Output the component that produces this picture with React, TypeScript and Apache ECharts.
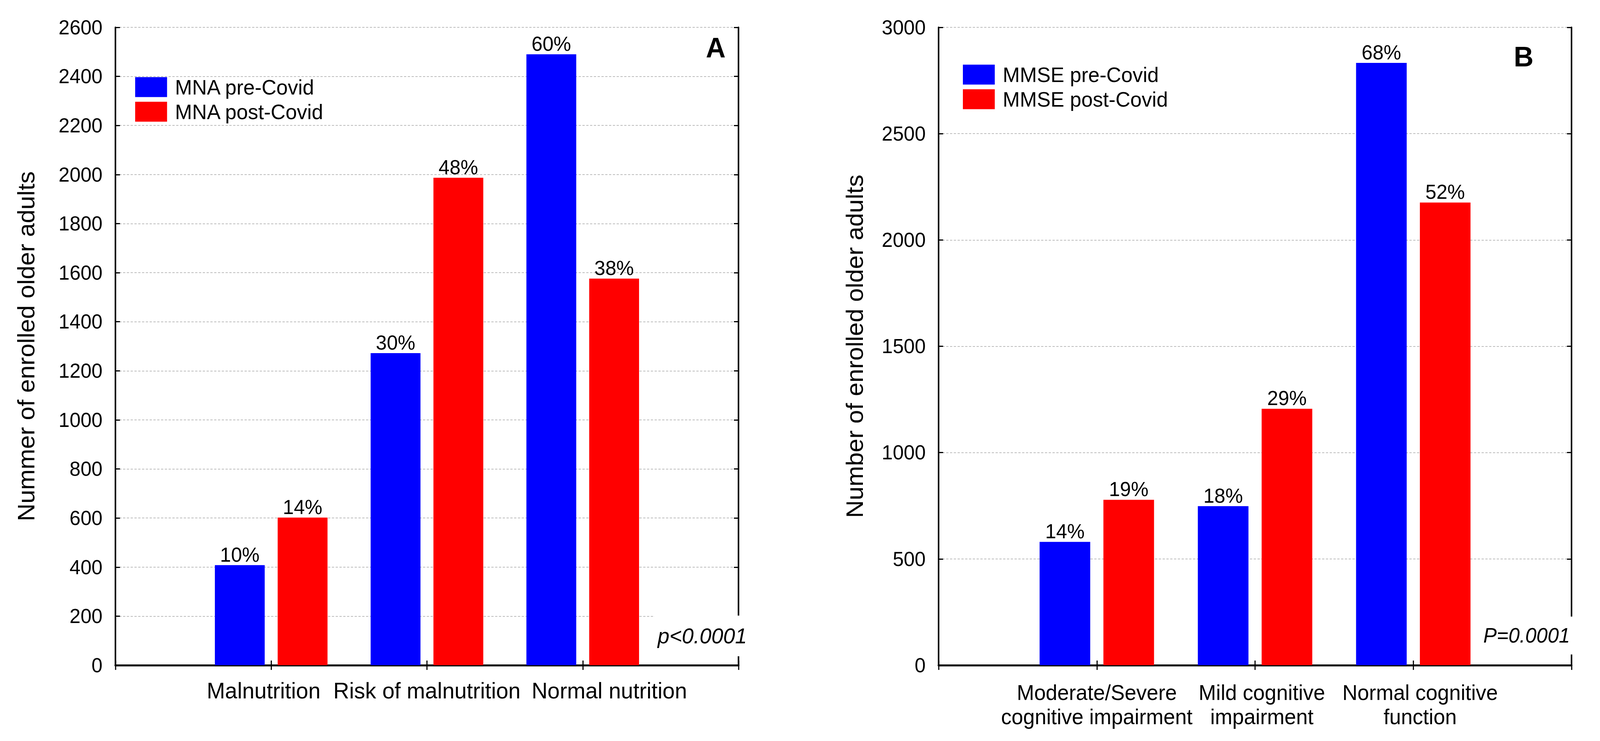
import React, { useEffect, useRef, useState } from 'react';
import * as echarts from 'echarts';

const W = 4214;
const H = 1897;
const FONT = '"Liberation Sans", Arial, sans-serif';

// Panel A (MNA)
const mnaCategories = ['', 'Malnutrition', 'Risk of malnutrition', 'Normal nutrition', ''];
const mnaPre = [408, 1272, 2490];
const mnaPost = [602, 1987, 1576];
const mnaPrePct = ['10%', '30%', '60%'];
const mnaPostPct = ['14%', '48%', '38%'];
const mnaSeriesNames = ['MNA pre-Covid', 'MNA post-Covid'];
const mnaYMax = 2600;
const mnaYStep = 200;

// Panel B (MMSE)
const mmseCategories = ['', 'Moderate/Severe\ncognitive impairment', 'Mild cognitive\nimpairment', 'Normal cognitive\nfunction', ''];
const mmsePre = [580, 748, 2833];
const mmsePost = [778, 1206, 2176];
const mmsePrePct = ['14%', '18%', '68%'];
const mmsePostPct = ['19%', '29%', '52%'];
const mmseSeriesNames = ['MMSE pre-Covid', 'MMSE post-Covid'];
const mmseYMax = 3000;
const mmseYStep = 500;

const BLUE = '#0000ff';
const RED = '#ff0000';

const pad = (arr: number[]) => ['-', ...arr, '-'];

function buildOption() {
  const grids = [
    { left: 304, top: 70, width: 1641, height: 1633 },
    { left: 2472, top: 70, width: 1667, height: 1633 },
  ];

  const labelPadA: Record<number, number[]> = { 1: [0, 40, 0, 0], 2: [0, 0, 0, 0], 3: [0, 0, 0, 140] };
  const labelPadB: Record<number, number[]> = { 1: [0, 0, 0, 0], 2: [0, 0, 0, 36], 3: [0, 0, 0, 36] };

  const mkRich = (pads: Record<number, number[]>, fs: number, lh: number) => {
    const r: any = {};
    Object.keys(pads).forEach((k) => {
      r['c' + k] = { fontSize: fs, lineHeight: lh, fontFamily: FONT, color: '#000', padding: pads[Number(k)] };
    });
    return r;
  };

  const tickStyle = { show: true, inside: true, length: 12, lineStyle: { color: '#000', width: 3 } };

  const bottomX = (gridIndex: number, data: string[], fs: number, lh: number, margin: number, pads: Record<number, number[]>) => ({
    type: 'category',
    gridIndex,
    data,
    boundaryGap: false,
    position: 'bottom',
    axisLine: { show: true, lineStyle: { color: '#000', width: 5 } },
    axisTick: tickStyle,
    axisLabel: {
      interval: 0,
      margin,
      fontSize: fs,
      lineHeight: lh,
      fontFamily: FONT,
      color: '#000',
      formatter: (v: string, i: number) => (v ? `{c${i}|${v}}` : ''),
      rich: mkRich(pads, fs, lh),
    },
    splitLine: { show: false },
  });

  const topX = (gridIndex: number, data: string[]) => ({
    type: 'category',
    gridIndex,
    data,
    boundaryGap: false,
    position: 'top',
    axisLine: { show: true, lineStyle: { color: '#000', width: 4 } },
    axisTick: tickStyle,
    axisLabel: { show: false },
    splitLine: { show: false },
  });

  const leftY = (gridIndex: number, max: number, interval: number, name: string, nameGap: number) => ({
    type: 'value',
    gridIndex,
    min: 0,
    max,
    interval,
    position: 'left',
    name,
    nameLocation: 'middle',
    nameGap,
    nameTextStyle: { fontSize: 63, fontFamily: FONT, color: '#000' },
    axisLine: { show: true, lineStyle: { color: '#000', width: 4 } },
    axisTick: tickStyle,
    axisLabel: { fontSize: 52, fontFamily: FONT, color: '#000', margin: 34, formatter: (v: number) => String(v) },
    splitLine: { show: true, lineStyle: { color: '#bdbdbd', width: 2, type: [6, 4] } },
  });

  const rightY = (gridIndex: number, max: number, interval: number) => ({
    type: 'value',
    gridIndex,
    min: 0,
    max,
    interval,
    position: 'right',
    axisLine: { show: true, lineStyle: { color: '#000', width: 4 } },
    axisTick: tickStyle,
    axisLabel: { show: false },
    splitLine: { show: false },
  });

  const bar = (name: string, data: number[], pct: string[], color: string, xi: number, yi: number) => ({
    type: 'bar',
    name,
    xAxisIndex: xi,
    yAxisIndex: yi,
    data: pad(data),
    barWidth: '32%',
    barGap: '26%',
    itemStyle: { color },
    label: {
      show: true,
      position: 'top',
      distance: 1,
      fontSize: 52,
      fontFamily: FONT,
      color: '#000',
      formatter: (p: any) => pct[p.dataIndex - 1] ?? '',
    },
  });

  const legend = (names: string[], left: number, top: number) => ({
    data: names,
    orient: 'vertical',
    left,
    top,
    padding: 0,
    itemWidth: 84,
    itemHeight: 51,
    itemGap: 9,
    icon: 'rect',
    selectedMode: false,
    textStyle: { fontSize: 54, lineHeight: 54, fontFamily: FONT, color: '#000', padding: [0, 0, 0, 16] },
  });

  return {
    animation: false,
    backgroundColor: '#fff',
    grid: grids,
    xAxis: [
      bottomX(0, mnaCategories, 58, 58, 36, labelPadA),
      topX(0, mnaCategories),
      bottomX(1, mmseCategories, 55, 62, 39, labelPadB),
      topX(1, mmseCategories),
    ],
    yAxis: [
      leftY(0, mnaYMax, mnaYStep, 'Nummer of enrolled older adults', 204),
      rightY(0, mnaYMax, mnaYStep),
      leftY(1, mmseYMax, mmseYStep, 'Number of enrolled older adults', 190),
      rightY(1, mmseYMax, mmseYStep),
    ],
    legend: [legend(mnaSeriesNames, 356, 196), legend(mmseSeriesNames, 2536, 164)],
    series: [
      bar(mnaSeriesNames[0], mnaPre, mnaPrePct, BLUE, 0, 0),
      bar(mnaSeriesNames[1], mnaPost, mnaPostPct, RED, 0, 0),
      bar(mmseSeriesNames[0], mmsePre, mmsePrePct, BLUE, 2, 2),
      bar(mmseSeriesNames[1], mmsePost, mmsePostPct, RED, 2, 2),
    ],
    graphic: [
      {
        type: 'text',
        z: 100,
        x: 1885,
        y: 122,
        style: { text: 'A', fontSize: 72, fontWeight: 'bold', fontFamily: FONT, fill: '#000', align: 'center', verticalAlign: 'middle' },
      },
      {
        type: 'text',
        z: 100,
        x: 4013,
        y: 145,
        style: { text: 'B', fontSize: 72, fontWeight: 'bold', fontFamily: FONT, fill: '#000', align: 'center', verticalAlign: 'middle' },
      },
      {
        type: 'text',
        z: 100,
        x: 1724,
        y: 1628,
        style: {
          text: 'p<0.0001',
          fontSize: 56,
          fontStyle: 'italic',
          fontFamily: FONT,
          fill: '#000',
          align: 'left',
          verticalAlign: 'middle',
          backgroundColor: '#fff',
          padding: [24, 8, 24, 8],
        },
      },
      {
        type: 'text',
        z: 100,
        x: 4143,
        y: 1627,
        style: {
          text: 'P=0.0001',
          fontSize: 53,
          fontStyle: 'italic',
          fontFamily: FONT,
          fill: '#000',
          align: 'right',
          verticalAlign: 'middle',
          backgroundColor: '#fff',
          padding: [22, 8, 22, 8],
        },
      },
    ],
  };
}

export default function App() {
  const ref = useRef<HTMLDivElement>(null);
  const [scale] = useState(() => ({
    sx: (window.innerWidth || W) / W,
    sy: (window.innerHeight || H) / H,
  }));
  useEffect(() => {
    if (!ref.current) return;
    const chart = echarts.init(ref.current, undefined, { renderer: 'svg', width: W, height: H });
    chart.setOption(buildOption() as any);
    return () => chart.dispose();
  }, []);
  return (
    <div
      style={{ position: 'fixed', left: 0, top: 0, width: W * scale.sx, height: H * scale.sy, overflow: 'hidden', background: '#fff' }}
    >
      <div
        ref={ref}
        style={{
          width: W,
          height: H,
          background: '#fff',
          transform: `scale(${scale.sx}, ${scale.sy})`,
          transformOrigin: '0 0',
        }}
      />
    </div>
  );
}
